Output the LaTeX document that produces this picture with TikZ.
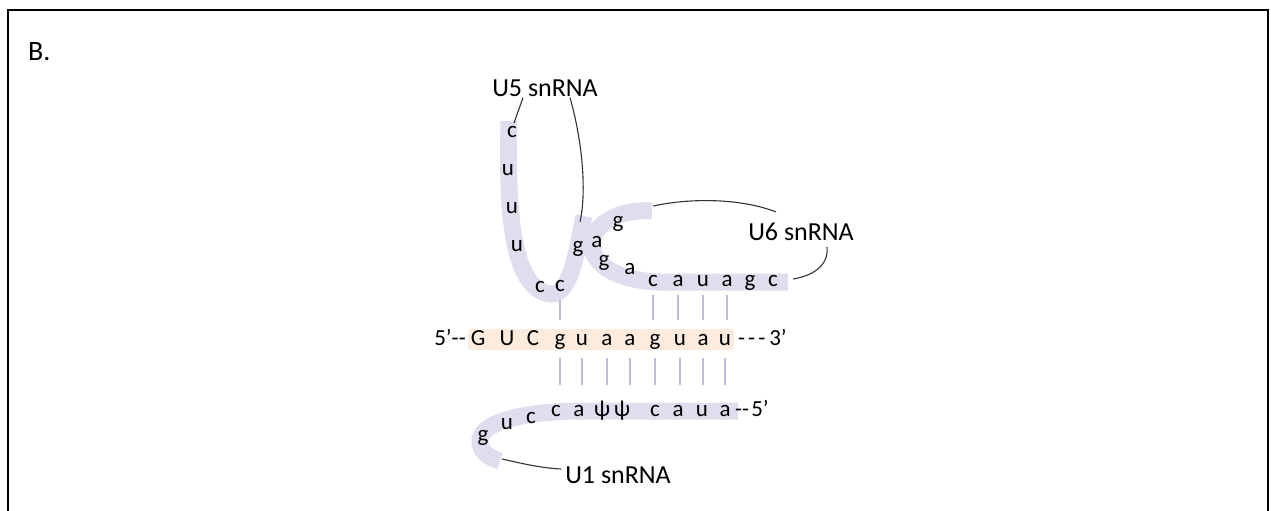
\documentclass[tikz,border=0pt]{standalone}
\usepackage{fontspec}
\setmainfont{Carlito}

\definecolor{bandpurple}{RGB}{225,221,238}
\definecolor{pairline}{RGB}{190,186,226}
\definecolor{exonband}{RGB}{253,236,222}

\tikzset{
  nt/.style={font=\fontsize{23}{26}\selectfont, inner sep=0pt, text height=11pt, text depth=4pt, anchor=base},
  lbl/.style={font=\fontsize{26}{30}\selectfont, inner sep=1pt},
  strand/.style={line width=17pt, bandpurple},
  pairup/.style={pairline, line width=2.2pt, shorten <=5pt, shorten >=14pt},
  pairdn/.style={pairline, line width=2.2pt, shorten <=9pt, shorten >=20pt},
  lead/.style={line width=1.1pt, black!80},
}

\begin{document}
\begin{tikzpicture}[x=1pt, y=-1pt]
    \useasboundingbox (0,0) rectangle (1271,511);

    % Cadre
    \draw[line width=2.5pt] (8,511) -- (8,10) -- (1268,10) -- (1268,511);
    \node[anchor=base west, font=\fontsize{28}{32}\selectfont, inner sep=0pt] (panel) at (28,60) {B.};

    % Rubans des snRNA
    \draw[strand] (509,121) .. controls (507,205) and (510,288) .. (550,294) .. controls (570,296) and (576,255) .. (584,216);
    \draw[strand] (652,211) .. controls (612,208) and (585,232) .. (593,252) .. controls (600,270) and (625,281) .. (660,282) -- (788,282);
    \draw[strand] (738,411) -- (575,411) .. controls (530,412) and (482,420) .. (480,440) .. controls (479,452) and (490,458) .. (500,461);

    % Exon / intron
    \fill[exonband, rounded corners=3pt] (468,329) rectangle (734,350);

    % U5 snRNA
    \node[nt] (u5c1) at (512,137) {c};
    \node[nt] (u5u1) at (508,175) {u};
    \node[nt] (u5u2) at (512,213) {u};
    \node[nt] (u5u3) at (517,251) {u};
    \node[nt] (u5c2) at (540,292) {c};
    \node[nt] (u5c3) at (560,291) {c};
    \node[nt] (u5g) at (578,252) {g};

    % U6 snRNA
    \node[nt] (u6g1) at (618,227) {g};
    \node[nt] (u6a1) at (597,247) {a};
    \node[nt] (u6g2) at (604,266) {g};
    \node[nt] (u6a2) at (630,274) {a};
    \node[nt] (u6c1) at (653,286) {c};
    \node[nt] (u6a3) at (678,286) {a};
    \node[nt] (u6u1) at (703,286) {u};
    \node[nt] (u6a4) at (727,286) {a};
    \node[nt] (u6g3) at (750,286) {g};
    \node[nt] (u6c2) at (773,286) {c};

    % Pre-mRNA
    \node[nt, anchor=base east] (p5) at (466,345) {5’-{}-};
    \node[nt] (eG) at (478,345) {G};
    \node[nt] (eU) at (507,345) {U};
    \node[nt] (eC) at (533,345) {C};
    \node[nt] (ig1) at (560,345) {g};
    \node[nt] (iu1) at (582,345) {u};
    \node[nt] (ia1) at (607,345) {a};
    \node[nt] (ia2) at (630,345) {a};
    \node[nt] (ig2) at (655,345) {g};
    \node[nt] (iu2) at (680,345) {u};
    \node[nt] (ia3) at (703,345) {a};
    \node[nt] (iu3) at (725,345) {u};
    \node[nt, anchor=base west] (p3) at (738,345) {-\hspace{3pt}-\hspace{3pt}-\hspace{4pt}3’};

    % U1 snRNA
    \node[nt] (u1a1) at (725,416) {a};
    \node[nt] (u1u1) at (702,416) {u};
    \node[nt] (u1a2) at (678,416) {a};
    \node[nt] (u1c1) at (655,416) {c};
    \node[nt] (u1p1) at (622,416) {ψ};
    \node[nt] (u1p2) at (602,416) {ψ};
    \node[nt] (u1a3) at (579,416) {a};
    \node[nt] (u1c2) at (556,416) {c};
    \node[nt] (u1c3) at (531,423) {c};
    \node[nt] (u1u2) at (507,429) {u};
    \node[nt] (u1g) at (483,441) {g};
    \node[nt, anchor=base west] (u1end5) at (735,416) {-{}-\hspace{2pt}5’};

    % Appariements
    \draw[pairup] (u5c3.south) -- (u5c3.south |- ig1.north);
    \draw[pairup] (u6c1.south) -- (u6c1.south |- ig2.north);
    \draw[pairup] (u6a3.south) -- (u6a3.south |- iu2.north);
    \draw[pairup] (u6u1.south) -- (u6u1.south |- ia3.north);
    \draw[pairup] (u6a4.south) -- (u6a4.south |- iu3.north);
    \draw[pairdn] (ig1.south) -- (ig1.south |- u1c2.north);
    \draw[pairdn] (iu1.south) -- (iu1.south |- u1a3.north);
    \draw[pairdn] (ia1.south) -- (ia1.south |- u1p2.north);
    \draw[pairdn] (ia2.south) -- (ia2.south |- u1p1.north);
    \draw[pairdn] (ig2.south) -- (ig2.south |- u1c1.north);
    \draw[pairdn] (iu2.south) -- (iu2.south |- u1a2.north);
    \draw[pairdn] (ia3.south) -- (ia3.south |- u1u1.north);
    \draw[pairdn] (iu3.south) -- (iu3.south |- u1a1.north);

    % Etiquettes
    \node[lbl] (u5lab) at (545,88) {U5 snRNA};
    \node[lbl] (u6lab) at (801,232) {U6 snRNA};
    \node[lbl] (u1lab) at (618,475) {U1 snRNA};

    \coordinate (u5top) at (514,123);
    \coordinate (u5arm) at (580,222);
    \coordinate (u6top) at (653,206);
    \coordinate (u6end) at (793,279);
    \coordinate (u1end) at (502,459);

    \draw[lead] ([xshift=-22pt]u5lab.south) -- (u5top);
    \draw[lead] ([xshift=25pt]u5lab.south) .. controls (582,140) and (587,190) .. (u5arm);
    \draw[lead] ([shift={(-25,-10)}]u6lab.north) .. controls (740,198) and (690,198) .. (u6top);
    \draw[lead] ([shift={(26,5)}]u6lab.south) .. controls (829,266) and (812,276) .. (u6end);
    \draw[lead] ([shift={(-3,-6)}]u1lab.west) .. controls (540,468) and (520,463) .. (u1end);
\end{tikzpicture}
\end{document}
